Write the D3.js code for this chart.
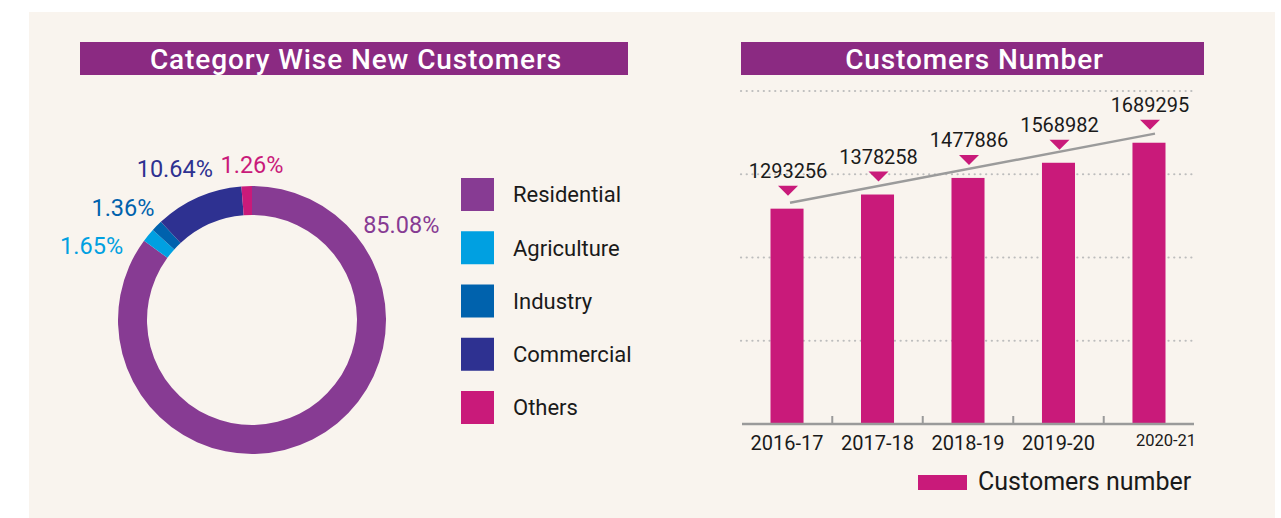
<!DOCTYPE html>
<html>
<head>
<meta charset="utf-8">
<script src="https://cdn.jsdelivr.net/npm/d3@7"></script>
<style>
  html, body { margin: 0; padding: 0; background: #fff; }
  svg { display: block; font-family: Roboto, "Open Sans", sans-serif; }
</style>
</head>
<body>
<div id="container"></div>
<script>
// ---- data ----
const categories = ["Residential", "Agriculture", "Industry", "Commercial", "Others"];
const shares = [85.08, 1.65, 1.36, 10.64, 1.26];
const catColors = ["#873b93", "#00a0e1", "#0062ad", "#2e3191", "#c91a7a"];

const years = ["2016-17", "2017-18", "2018-19", "2019-20", "2020-21"];
const customers = [1293256, 1378258, 1477886, 1568982, 1689295];
const yTicks = [500000, 1000000, 1500000, 2000000];
const trendValues = [1329000, 1744000]; // grey trend line, first and last year

const width = 1281;
const height = 518;
const titleColor = "#8b2a82";
const barColor = "#c91a7a";

const svg = d3.select("#container")
  .append("svg")
  .attr("width", width)
  .attr("height", height);

// panel background
svg.append("rect")
  .attr("x", 29).attr("y", 12)
  .attr("width", 1246).attr("height", 506)
  .attr("fill", "#f9f4ee");

// title bars
function titleBar(x, w, label) {
  svg.append("rect")
    .attr("x", x).attr("y", 42)
    .attr("width", w).attr("height", 33)
    .attr("fill", titleColor);
  svg.append("text")
    .attr("x", x + w / 2 + 2).attr("y", 68.5)
    .attr("text-anchor", "middle")
    .attr("fill", "#fff")
    .attr("font-size", 28)
    .attr("font-weight", 500)
    .attr("letter-spacing", 0.9)
    .text(label);
}
titleBar(80, 548, "Category Wise New Customers");
titleBar(741, 463, "Customers Number");

// ---- donut ----
const cx = 252, cy = 320;
const pie = d3.pie().sort(null).value(d => d)(shares);
const arc = d3.arc().innerRadius(105).outerRadius(134);

const donut = svg.append("g").attr("transform", `translate(${cx},${cy})`);
donut.selectAll("path")
  .data(pie)
  .join("path")
  .attr("d", arc)
  .attr("fill", (d, i) => catColors[i]);

// label angles (degrees, clockwise from top) and radius picked to sit like the original
const labelAngle = [57.5, -65, -49, -27, 0];
const labelRadius = [177, 177, 171, 170, 155];
donut.selectAll("text.pct")
  .data(pie)
  .join("text")
  .attr("class", "pct")
  .attr("x", (d, i) => labelRadius[i] * Math.sin(labelAngle[i] * Math.PI / 180))
  .attr("y", (d, i) => -labelRadius[i] * Math.cos(labelAngle[i] * Math.PI / 180))
  .attr("dy", "0.36em")
  .attr("text-anchor", "middle")
  .attr("font-size", 23.5)
  .attr("fill", (d, i) => catColors[i])
  .text(d => d.data.toFixed(2) + "%");

// legend
const legendY = d3.scalePoint().domain(categories).range([194.5, 407.5]);
const legend = svg.append("g");
legend.selectAll("rect")
  .data(categories)
  .join("rect")
  .attr("x", 461)
  .attr("y", d => legendY(d) - 16.5)
  .attr("width", 33).attr("height", 33)
  .attr("fill", (d, i) => catColors[i]);
legend.selectAll("text")
  .data(categories)
  .join("text")
  .attr("x", 513)
  .attr("y", d => legendY(d))
  .attr("dy", "0.36em")
  .attr("font-size", 22)
  .attr("fill", "#1a1a1a")
  .text(d => d);

// ---- bar chart ----
const x = d3.scaleBand()
  .domain(years)
  .range([742, 1194])
  .paddingInner(0.635)
  .paddingOuter(0.315);
const y = d3.scaleLinear().domain([0, 2000000]).range([424, 91]);

// dotted grid
svg.append("g")
  .selectAll("line")
  .data(yTicks)
  .join("line")
  .attr("x1", 741).attr("x2", 1196)
  .attr("y1", d => y(d)).attr("y2", d => y(d))
  .attr("stroke", "#bdbdbd")
  .attr("stroke-width", 2.2)
  .attr("stroke-linecap", "round")
  .attr("stroke-dasharray", "0.1 5.6");

// bars
svg.append("g")
  .selectAll("rect")
  .data(customers)
  .join("rect")
  .attr("x", (d, i) => x(years[i]))
  .attr("y", d => y(d))
  .attr("width", x.bandwidth())
  .attr("height", d => y(0) - y(d))
  .attr("fill", barColor);

// x axis
const xAxis = svg.append("g")
  .attr("transform", `translate(0,${y(0)})`)
  .call(d3.axisBottom(x).tickSize(0).tickPadding(12));
xAxis.select(".domain").remove();
xAxis.selectAll("text")
  .attr("font-family", "Roboto, sans-serif")
  .attr("font-size", 20)
  .attr("fill", "#1a1a1a");
xAxis.selectAll(".tick:last-of-type text")
  .attr("font-size", 16.5)
  .attr("dx", 17)
  .attr("dy", "0.62em");

svg.append("line")
  .attr("x1", 742).attr("x2", 1194)
  .attr("y1", y(0)).attr("y2", y(0))
  .attr("stroke", "#9a9a9a")
  .attr("stroke-width", 2.5);
svg.append("g")
  .selectAll("line")
  .data(years.slice(1))
  .join("line")
  .attr("x1", d => x(d) - x.step() * x.paddingInner() / 2)
  .attr("x2", d => x(d) - x.step() * x.paddingInner() / 2)
  .attr("y1", y(0)).attr("y2", y(0) - 8)
  .attr("stroke", "#9a9a9a")
  .attr("stroke-width", 2);

// trend line
const trendX = [x(years[0]) + x.bandwidth() / 2 + 3, x(years[years.length - 1]) + x.bandwidth() / 2 + 6];
svg.append("line")
  .attr("x1", trendX[0]).attr("y1", y(trendValues[0]))
  .attr("x2", trendX[1]).attr("y2", y(trendValues[1]))
  .attr("stroke", "#9b9b9b")
  .attr("stroke-width", 2.5);

// markers and value labels
const markers = svg.append("g");
markers.selectAll("path")
  .data(customers)
  .join("path")
  .attr("d", (d, i) => {
    const mx = x(years[i]) + x.bandwidth() / 2 + 1;
    const tip = y(d) - 13;
    return `M${mx - 10},${tip - 10}L${mx + 10},${tip - 10}L${mx},${tip}Z`;
  })
  .attr("fill", barColor);
markers.selectAll("text")
  .data(customers)
  .join("text")
  .attr("x", (d, i) => x(years[i]) + x.bandwidth() / 2 + 1)
  .attr("y", d => y(d) - 31)
  .attr("text-anchor", "middle")
  .attr("font-size", 20)
  .attr("fill", "#1a1a1a")
  .text(d => d);

// bottom legend
svg.append("rect")
  .attr("x", 918).attr("y", 475)
  .attr("width", 49).attr("height", 15)
  .attr("fill", barColor);
svg.append("text")
  .attr("x", 978).attr("y", 490)
  .attr("font-size", 25)
  .attr("fill", "#1a1a1a")
  .text("Customers number");
</script>
</body>
</html>
